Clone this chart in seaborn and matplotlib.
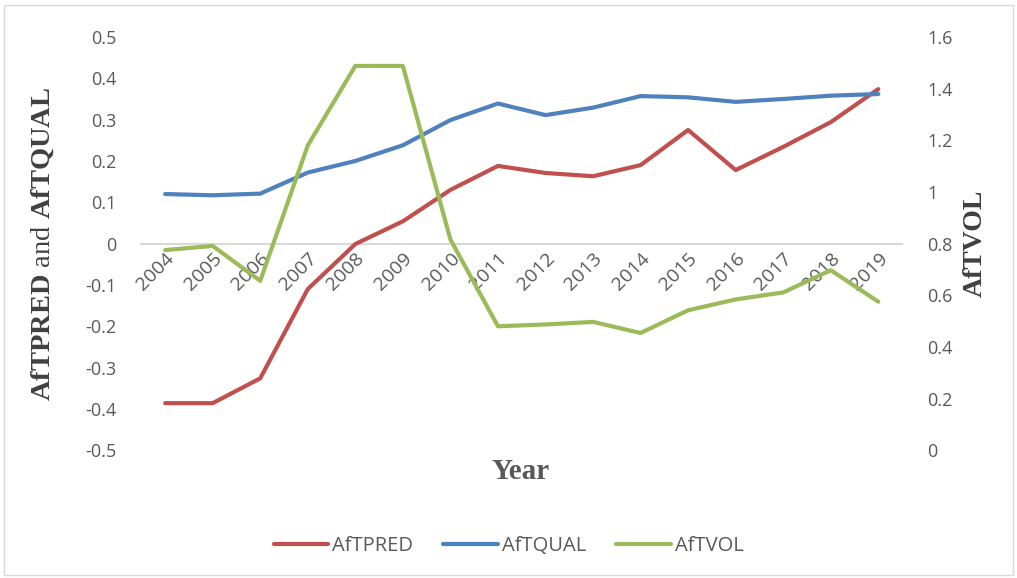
import numpy as np
import pandas as pd
import matplotlib
matplotlib.use('Agg')
import matplotlib.pyplot as plt
from matplotlib.ticker import FuncFormatter, MultipleLocator
from matplotlib.patches import Rectangle
import seaborn as sns

years = ['2004', '2005', '2006', '2007', '2008', '2009', '2010', '2011',
         '2012', '2013', '2014', '2015', '2016', '2017', '2018', '2019']
aftpred = [-0.386, -0.386, -0.326, -0.110, -0.001, 0.054, 0.130, 0.188,
           0.171, 0.163, 0.190, 0.275, 0.178, 0.234, 0.294, 0.374]
aftqual = [0.120, 0.117, 0.121, 0.172, 0.200, 0.238, 0.299, 0.339,
           0.311, 0.329, 0.357, 0.354, 0.343, 0.350, 0.358, 0.362]
aftvol = [0.775, 0.791, 0.656, 1.180, 1.488, 1.488, 0.816, 0.480,
          0.487, 0.497, 0.454, 0.542, 0.584, 0.611, 0.697, 0.575]

df = pd.DataFrame({'Year': years, 'AfTPRED': aftpred,
                   'AfTQUAL': aftqual, 'AfTVOL': aftvol})

sns.set_style('white')
plt.rcParams['font.family'] = ['Open Sans', 'DejaVu Sans']
plt.rcParams['axes.unicode_minus'] = False
plt.rcParams['mathtext.fontset'] = 'custom'
plt.rcParams['mathtext.rm'] = 'Liberation Serif'
plt.rcParams['mathtext.bf'] = 'Liberation Serif:bold'

grey = '#595959'
red, blue, green = '#C0504D', '#4F81BD', '#9BBB59'

fig = plt.figure(figsize=(10.17, 5.78), dpi=100)
ax = fig.add_axes([0.139, 0.221, 0.748, 0.715])
ax2 = ax.twinx()

sns.lineplot(data=df, x='Year', y='AfTPRED', ax=ax, color=red, lw=3,
             sort=False, label='AfTPRED', legend=False)
sns.lineplot(data=df, x='Year', y='AfTQUAL', ax=ax, color=blue, lw=3,
             sort=False, label='AfTQUAL', legend=False)
sns.lineplot(data=df, x='Year', y='AfTVOL', ax=ax2, color=green, lw=3,
             sort=False, label='AfTVOL', legend=False)
for line in ax.get_lines() + ax2.get_lines():
    line.set_solid_capstyle('round')

ax.set_xlim(-0.5, len(years) - 0.5)
ax.set_ylim(-0.5, 0.5)
ax2.set_ylim(0, 1.6)
ax.yaxis.set_major_locator(MultipleLocator(0.1))
ax2.yaxis.set_major_locator(MultipleLocator(0.2))
fmt = FuncFormatter(lambda v, p: '{:g}'.format(round(v, 2)))
ax.yaxis.set_major_formatter(fmt)
ax2.yaxis.set_major_formatter(fmt)

for a in (ax, ax2):
    for s in a.spines.values():
        s.set_visible(False)
ax.spines['bottom'].set_visible(True)
ax.spines['bottom'].set_position(('data', 0))
ax.spines['bottom'].set_color('#D9D9D9')
ax.spines['bottom'].set_linewidth(1.5)
ax.spines['bottom'].set_zorder(0)

ax.tick_params(axis='x', length=0, pad=4, labelsize=14, labelcolor=grey)
ax.tick_params(axis='y', length=0, pad=18, labelsize=13, labelcolor=grey)
ax2.tick_params(axis='y', length=0, pad=18, labelsize=13, labelcolor=grey)
for lbl in ax.get_xticklabels():
    lbl.set_rotation(45)
    lbl.set_ha('right')
    lbl.set_rotation_mode('anchor')

ax.set_xlabel('')
ax.set_ylabel(r'$\mathbf{AfTPRED}$ and $\mathbf{AfTQUAL}$',
              fontsize=20.5, color='#404040', family='Liberation Serif')
ax.yaxis.set_label_coords(-0.112, 0.5)
ax2.set_ylabel('AfTVOL', fontsize=20, fontweight='bold', color='#404040',
               family='Liberation Serif')
ax2.yaxis.set_label_coords(1.080, 0.5)
fig.text(0.512, 0.185, 'Year', fontsize=21, fontweight='bold', color=grey,
         family='Liberation Serif', ha='center', va='center')

handles = ax.get_lines()[:2] + ax2.get_lines()[:1]
fig.legend(handles, ['AfTPRED', 'AfTQUAL', 'AfTVOL'], loc='center',
           bbox_to_anchor=(0.5, 0.055), ncol=3, frameon=False, fontsize=14.5,
           labelcolor=grey, handlelength=2.7, handletextpad=0.2, columnspacing=1.5)

fig.patches.append(Rectangle((0.004, 0.006), 0.992, 0.986, transform=fig.transFigure,
                             fill=False, edgecolor='#D9D9D9', lw=1))

fig.savefig('out.png', dpi=100)
